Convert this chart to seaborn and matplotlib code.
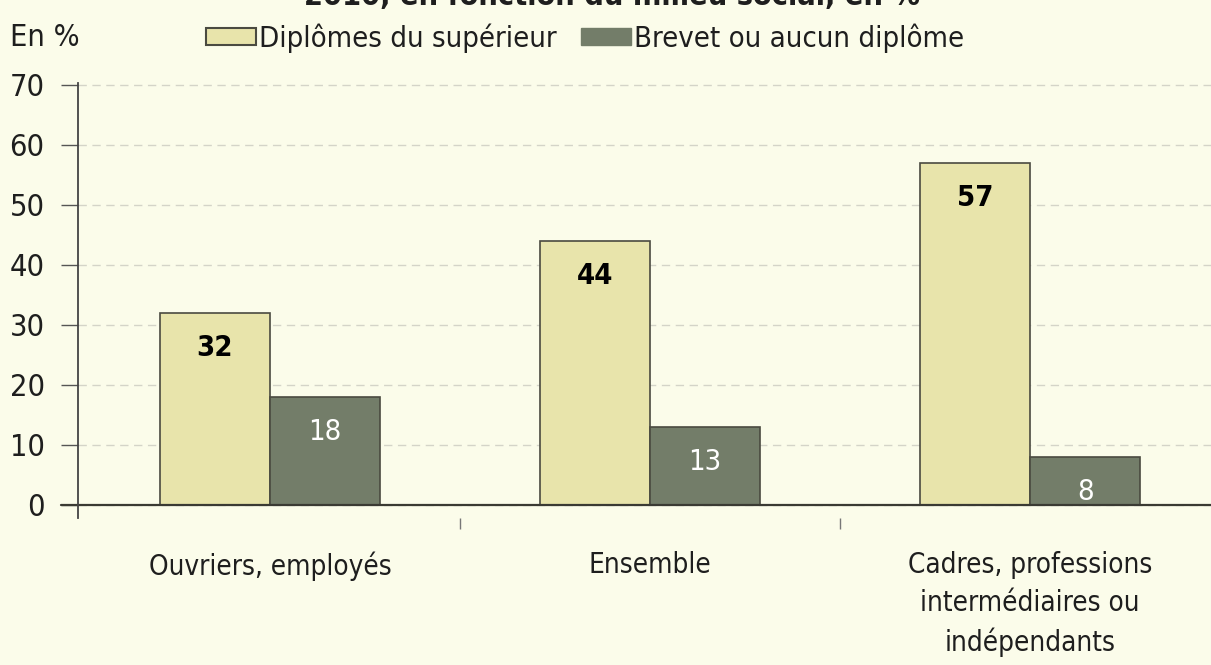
import matplotlib
matplotlib.use("Agg")
import matplotlib.pyplot as plt
import matplotlib.patches as mpatches
import seaborn as sns
import pandas as pd

# data
categories = ["Ouvriers, employés", "Ensemble",
              "Cadres, professions\nintermédiaires ou\nindépendants"]
series = ["Diplômes du supérieur", "Brevet ou aucun diplôme"]
superieur = [32, 44, 57]
brevet = [18, 13, 8]
yticks = [0, 10, 20, 30, 40, 50, 60, 70]

bg = "#fbfcea"
light = "#e8e4ab"
dark = "#737d69"
edge = "#4a4a40"
ink = "#1e1e1e"

sns.set_theme(style="white")
plt.rcParams["font.family"] = ["DejaVu Sans"]
plt.rcParams["font.stretch"] = "condensed"
plt.rcParams["font.size"] = 21
plt.rcParams["text.color"] = ink
plt.rcParams["xtick.color"] = ink
plt.rcParams["ytick.color"] = ink

df = pd.DataFrame({
    "cat": categories * 2,
    "serie": [series[0]] * 3 + [series[1]] * 3,
    "val": superieur + brevet,
})

fig = plt.figure(figsize=(12.11, 6.65), dpi=100, facecolor=bg)
ax = fig.add_axes([0.0644, 0.221, 0.9356, 0.654])
ax.set_facecolor(bg)

sns.barplot(data=df, x="cat", y="val", hue="serie", order=categories,
            hue_order=series, palette=[light, dark], width=0.58,
            edgecolor=edge, linewidth=1.2, saturation=1, legend=False, ax=ax)

# value labels inside the bars
for cont, col, wt in zip(ax.containers, ["black", "white"], ["bold", "normal"]):
    for bar in cont:
        h = bar.get_height()
        ax.text(bar.get_x() + bar.get_width() / 2, h - 5.8, f"{h:.0f}",
                ha="center", va="center", color=col, fontsize=21,
                fontweight=wt)

ax.set_xlim(-0.505, 2.476)
ax.set_ylim(-2.2, 70.3)
ax.set_yticks(yticks)
ax.set_yticklabels([str(t) for t in yticks], fontsize=22)
ax.set_xlabel("")
ax.set_ylabel("")
ax.tick_params(axis="y", length=12, width=1, color="#555555", pad=12,
               left=True, direction="out", labelcolor=ink)
ax.tick_params(axis="x", length=0, pad=24, labelsize=20, labelcolor=ink)
ax.set_xticks([0.5, 1.5], minor=True)
ax.tick_params(axis="x", which="minor", length=8, color="#777777",
               bottom=True, direction="out")
for lab in ax.get_xticklabels():
    lab.set_linespacing(1.45)

ax.yaxis.grid(True, linestyle=(0, (6, 4)), color="#d4d4c8", linewidth=1)
ax.set_axisbelow(True)
for s in ["top", "right"]:
    ax.spines[s].set_visible(False)
ax.spines["left"].set_color("#444444")
ax.spines["left"].set_linewidth(1.3)
ax.spines["bottom"].set_visible(False)
ax.axhline(0, color="#3a3a33", linewidth=1.6, xmin=-0.015, clip_on=False)

# legend and header texts
handles = [mpatches.Patch(facecolor=light, edgecolor=edge, linewidth=1.5),
           mpatches.Patch(facecolor=dark, edgecolor=dark)]
fig.legend(handles, series, loc="center left", bbox_to_anchor=(0.1486, 0.943),
           ncol=2, frameon=False, fontsize=21, handlelength=1.7,
           handleheight=0.55, handletextpad=0.1, columnspacing=0.85)
fig.text(0.008, 0.943, "En %", fontsize=22, va="center", ha="left")
fig.text(0.505, 0.984, "2010, en fonction du milieu social, en %",
         fontsize=22, fontweight="bold", ha="center", va="bottom")

fig.savefig("out.png", dpi=100, facecolor=bg)
